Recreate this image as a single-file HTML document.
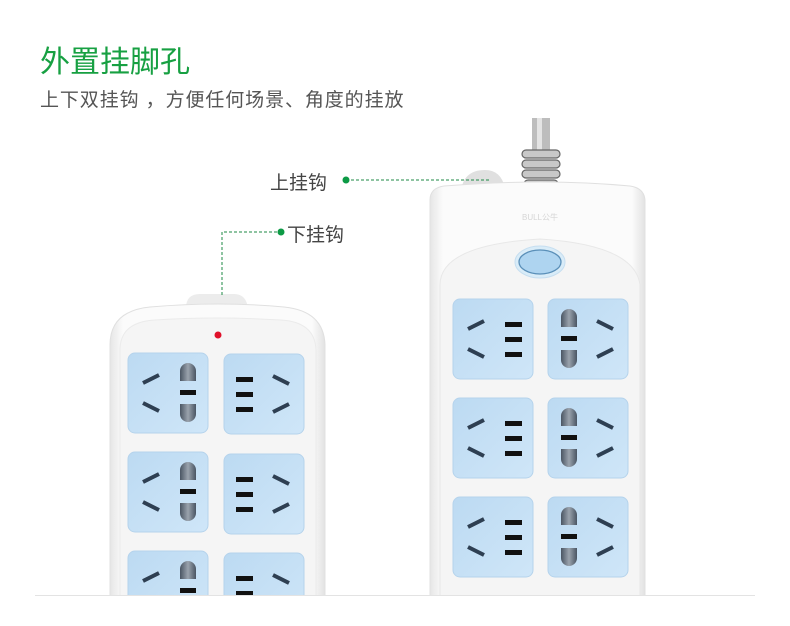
<!DOCTYPE html>
<html><head><meta charset="utf-8"><style>
body{margin:0;background:#fff;}
#w{position:relative;width:790px;height:626px;overflow:hidden;background:#fff;font-family:"Liberation Sans","Noto Sans CJK SC",sans-serif;}
.t{position:absolute;white-space:nowrap;}
svg{position:absolute;left:0;top:0;}
</style></head><body><div id="w">
<svg width="790" height="626" viewBox="0 0 790 626">
<defs>
<linearGradient id="sk" x1="0" y1="0" x2="1" y2="1"><stop offset="0" stop-color="#bcdaf2"/><stop offset="1" stop-color="#cfe6f8"/></linearGradient>
<linearGradient id="body" x1="0" y1="0" x2="1" y2="0"><stop offset="0" stop-color="#e6e6e6"/><stop offset="0.06" stop-color="#fbfbfb"/><stop offset="0.94" stop-color="#fbfbfb"/><stop offset="1" stop-color="#e2e2e2"/></linearGradient>
<linearGradient id="pin" x1="0" y1="0" x2="1" y2="0"><stop offset="0" stop-color="#4a5563"/><stop offset="0.5" stop-color="#9aa3ad"/><stop offset="1" stop-color="#4a5563"/></linearGradient>
<g id="sl"><rect width="80" height="80" rx="7" fill="url(#sk)" stroke="#b5d3ec"/>
<path d="M15 30 L31 22 M15 50 L31 58" stroke="#2e3f52" stroke-width="4"/></g>
<g id="sr"><rect width="80" height="80" rx="7" fill="url(#sk)" stroke="#b5d3ec"/>
<path d="M49 22 L65 30 M49 58 L65 50" stroke="#2e3f52" stroke-width="4"/></g>
<g id="slots"><rect x="0" y="0" width="17" height="5" fill="#111"/><rect x="0" y="15" width="17" height="5" fill="#111"/><rect x="0" y="30" width="17" height="5" fill="#111"/></g>
<g id="pins"><path d="M0 28 V18 a8 8 0 0 1 16 0 V28 Z" fill="url(#pin)"/><rect x="0" y="37" width="16" height="5" fill="#111"/><path d="M0 51 H16 V61 a8 8 0 0 1 -16 0 Z" fill="url(#pin)"/></g>
<g id="A"><use href="#sl"/><use href="#slots" x="52" y="23"/></g>
<g id="A2"><use href="#sr"/><use href="#slots" x="12" y="23"/></g>
<g id="B"><use href="#sl"/><use href="#pins" x="52" y="0"/></g>
<g id="B2"><use href="#sr"/><use href="#pins" x="13" y="0"/></g>
</defs>
<rect x="532" y="118" width="18" height="40" fill="#bdbdbd"/><rect x="537" y="118" width="5" height="40" fill="#e4e4e4"/>
<g fill="#c8c8c8" stroke="#666" stroke-width="1.2"><rect x="522" y="150" width="38" height="8" rx="4"/><rect x="522" y="160" width="38" height="8" rx="4"/><rect x="522" y="170" width="38" height="8" rx="4"/><rect x="524" y="180" width="34" height="8" rx="4"/></g>
<path d="M461 192 q2-22 24-22 q16 0 20 18 z" fill="#e0e0e0"/>
<path d="M430 620 V200 q0-12 14-14 q100-8 186 0 q14 2 15 14 V620 Z" fill="url(#body)" stroke="#e0e0e0"/>
<path d="M440 620 V285 q0-40 100-46 q95 6 100 46 V620 Z" fill="#f5f5f5" stroke="#e8e8e8"/>
<text x="540" y="220" font-size="8" fill="#d6d6d6" text-anchor="middle" font-family="Liberation Sans,sans-serif">BULL公牛</text>
<ellipse cx="540" cy="262" rx="25" ry="16" fill="#d9ecf8" stroke="#c6def0"/>
<ellipse cx="540" cy="262" rx="21" ry="12" fill="#aed4f0" stroke="#5a8fb8" stroke-width="1.3"/>
<use href="#A" x="453" y="299"/><use href="#B2" x="548" y="299"/>
<use href="#A" x="453" y="398"/><use href="#B2" x="548" y="398"/>
<use href="#A" x="453" y="497"/><use href="#B2" x="548" y="497"/>
<path d="M186 308 q0-14 14-14 h34 q12 0 14 14 z" fill="#ececec"/>
<path d="M110 620 V345 q0-34 40-38 q70-6 134 0 q40 4 41 38 V620 Z" fill="url(#body)" stroke="#e0e0e0"/>
<path d="M120 620 V350 q0-28 35-30 q60-4 126 0 q34 2 35 30 V620 Z" fill="#f5f5f5" stroke="#ebebeb"/>
<circle cx="218" cy="335" r="3.5" fill="#e0102a"/>
<use href="#B" x="128" y="353"/><use href="#A2" x="224" y="354"/>
<use href="#B" x="128" y="452"/><use href="#A2" x="224" y="454"/>
<use href="#B" x="128" y="551"/><use href="#A2" x="224" y="553"/>
<rect x="0" y="596" width="790" height="30" fill="#fff"/>
<line x1="35" y1="595.5" x2="755" y2="595.5" stroke="#e3e3e3"/>
<g stroke="#1e8a46" stroke-width="1" stroke-dasharray="3,2" fill="none">
<line x1="346" y1="180" x2="490" y2="180"/>
<path d="M222 295 V232 H280"/></g>
<circle cx="346" cy="180" r="3.5" fill="#0c9a45"/>
<circle cx="281" cy="232" r="3.5" fill="#0c9a45"/>
</svg>
<div class="t" style="left:40px;top:37px;font-size:30px;color:#17a042;">外置挂脚孔</div>
<div class="t" style="left:40px;top:85px;font-size:19px;letter-spacing:0.9px;color:#555;">上下双挂钩 ，方便任何场景、角度的挂放</div>
<div class="t" style="left:270px;top:168px;font-size:19px;color:#444;">上挂钩</div>
<div class="t" style="left:287px;top:220px;font-size:19px;color:#444;">下挂钩</div>
</div></body></html>
